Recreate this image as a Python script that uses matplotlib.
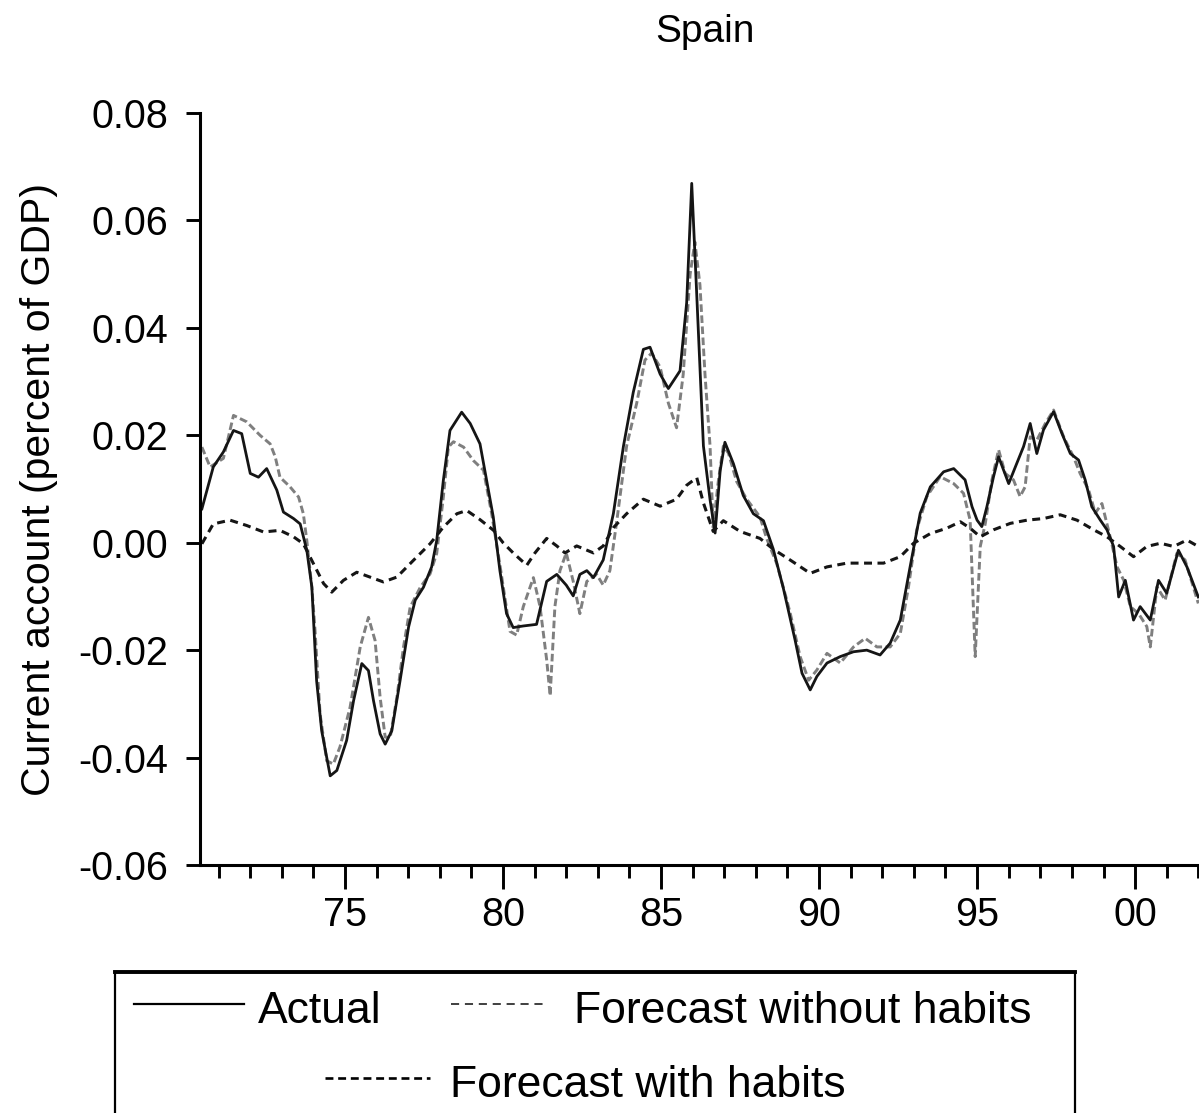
import matplotlib
matplotlib.use("Agg")
import matplotlib.pyplot as plt
from matplotlib.lines import Line2D
from matplotlib.patches import Rectangle
from matplotlib.ticker import FixedLocator, FixedFormatter, MultipleLocator

plt.rcParams['font.family'] = ['Liberation Sans', 'DejaVu Sans']
plt.rcParams['axes.unicode_minus'] = False

# Spain, current account / GDP (years given as 70.5 = mid-1970 etc.)
actual_t = [70.47, 70.83, 71.15, 71.47, 71.73, 72.0, 72.26, 72.52, 72.84, 73.05,
            73.37, 73.58, 73.79, 73.95, 74.1, 74.26, 74.53, 74.74, 75.05, 75.27,
            75.53, 75.74, 75.9, 76.11, 76.27, 76.48, 76.74, 77.01, 77.22, 77.48,
            77.74, 77.9, 78.11, 78.32, 78.69, 78.96, 79.27, 79.69, 79.9, 80.11,
            80.32, 80.64, 81.06, 81.38, 81.7, 82.0, 82.22, 82.43, 82.65, 82.86,
            83.17, 83.49, 83.81, 84.12, 84.44, 84.65, 84.97, 85.23, 85.6, 85.81,
            85.97, 86.13, 86.34, 86.55, 86.71, 86.87, 87.02, 87.29, 87.6, 87.92,
            88.24, 88.55, 88.87, 89.24, 89.46, 89.72, 89.93, 90.25, 90.67, 91.09,
            91.51, 91.93, 92.25, 92.57, 92.88, 93.2, 93.52, 93.94, 94.26, 94.62,
            94.84, 95.0, 95.15, 95.31, 95.52, 95.68, 95.84, 96.0, 96.21, 96.47,
            96.68, 96.89, 97.1, 97.42, 97.68, 97.95, 98.21, 98.42, 98.63, 98.9,
            99.11, 99.32, 99.48, 99.69, 99.95, 100.16, 100.48, 100.74, 101.0, 101.37,
            101.64, 102.0]
actual_v = [0.0063, 0.0141, 0.0169, 0.0209, 0.0203, 0.0129, 0.0122, 0.0138, 0.0098, 0.0057,
            0.0045, 0.0035, -0.0014, -0.0083, -0.0257, -0.035, -0.0434, -0.0424, -0.0368, -0.0294,
            -0.0225, -0.0238, -0.0294, -0.0356, -0.0375, -0.035, -0.0257, -0.0157, -0.0107, -0.0083,
            -0.0045, 0.0004, 0.0116, 0.0209, 0.0243, 0.0222, 0.0184, 0.0048, -0.0052, -0.0132,
            -0.0158, -0.0155, -0.0152, -0.0072, -0.0059, -0.0079, -0.0099, -0.0059, -0.0052, -0.0065,
            -0.0032, 0.0054, 0.018, 0.028, 0.036, 0.0364, 0.0314, 0.0287, 0.032, 0.0447,
            0.0669, 0.046, 0.018, 0.008, 0.0018, 0.0134, 0.0187, 0.0147, 0.0088, 0.0054,
            0.0041, -0.0012, -0.0085, -0.0181, -0.0243, -0.0274, -0.0249, -0.0224, -0.0212, -0.0203,
            -0.02, -0.0209, -0.0187, -0.0144, -0.0045, 0.0055, 0.0104, 0.0132, 0.0138, 0.0117,
            0.0067, 0.0042, 0.003, 0.0067, 0.0123, 0.016, 0.0135, 0.011, 0.0141, 0.0179,
            0.0222, 0.0166, 0.021, 0.0244, 0.0204, 0.0166, 0.0154, 0.0117, 0.0067, 0.0042,
            0.0024, -0.0007, -0.0101, -0.007, -0.0144, -0.0119, -0.0144, -0.007, -0.0094, -0.0014,
            -0.0045, -0.0101]

no_habits_t = [70.47, 70.73, 71.15, 71.47, 71.89, 72.31, 72.63, 72.79, 72.94, 73.26,
               73.53, 73.68, 73.79, 73.95, 74.05, 74.21, 74.42, 74.63, 74.84, 75.16,
               75.48, 75.74, 75.95, 76.11, 76.27, 76.43, 76.64, 76.85, 77.06, 77.38,
               77.69, 77.9, 78.11, 78.27, 78.43, 78.75, 79.06, 79.38, 79.64, 79.91,
               80.22, 80.43, 80.64, 80.96, 81.17, 81.38, 81.49, 81.64, 81.8, 82.0,
               82.22, 82.43, 82.65, 82.96, 83.17, 83.38, 83.6, 83.91, 84.23, 84.49,
               84.7, 84.97, 85.23, 85.49, 85.7, 85.92, 86.07, 86.23, 86.39, 86.55,
               86.65, 86.81, 86.97, 87.13, 87.39, 87.71, 88.13, 88.34, 88.66, 88.97,
               89.09, 89.4, 89.67, 89.93, 90.25, 90.67, 91.09, 91.46, 91.83, 92.25,
               92.57, 92.83, 93.09, 93.41, 93.83, 94.26, 94.57, 94.78, 94.94, 95.1,
               95.26, 95.47, 95.68, 95.89, 96.15, 96.36, 96.52, 96.68, 96.89, 97.16,
               97.42, 97.74, 98.05, 98.26, 98.53, 98.74, 98.95, 99.21, 99.43, 99.64,
               99.85, 100.11, 100.37, 100.48, 100.69, 100.95, 101.32, 101.58, 102.0]
no_habits_v = [0.0178, 0.0141, 0.0157, 0.0237, 0.0225, 0.02, 0.0184, 0.016, 0.0122, 0.0104,
               0.0085, 0.0054, 0.0004, -0.0083, -0.0163, -0.0319, -0.0406, -0.0412, -0.038, -0.0306,
               -0.0194, -0.0139, -0.0182, -0.0288, -0.0362, -0.0362, -0.0288, -0.0194, -0.012, -0.0083,
               -0.0058, -0.002, 0.0085, 0.0178, 0.0188, 0.0178, 0.0153, 0.0135, 0.0054, -0.0045,
               -0.0165, -0.0172, -0.0119, -0.0065, -0.0119, -0.0218, -0.0285, -0.0119, -0.0052, -0.0019,
               -0.0072, -0.0132, -0.0072, -0.0059, -0.0079, -0.0052, 0.0041, 0.018, 0.026, 0.034,
               0.0353, 0.0327, 0.026, 0.0214, 0.0313, 0.05, 0.056, 0.048, 0.0313, 0.018,
               0.0028, 0.0114, 0.018, 0.0167, 0.0114, 0.0081, 0.0048, 0.0008, -0.0039, -0.0105,
               -0.0132, -0.0212, -0.0256, -0.0237, -0.0206, -0.0224, -0.0194, -0.0178, -0.0194, -0.0194,
               -0.0169, -0.0082, 0.0024, 0.0086, 0.0123, 0.011, 0.0092, 0.0042, -0.0212, -0.0007,
               0.0036, 0.0117, 0.0173, 0.0129, 0.0117, 0.0086, 0.0104, 0.0197, 0.0191, 0.0222,
               0.0247, 0.0197, 0.016, 0.0129, 0.0098, 0.0055, 0.0073, 0.0011, -0.0045, -0.007,
               -0.0119, -0.0132, -0.0156, -0.0194, -0.0082, -0.0107, -0.002, -0.0032, -0.0113]

habits_t = [70.47, 70.83, 71.36, 71.89, 72.42, 72.94, 73.37, 73.68, 74.0, 74.32,
            74.58, 74.95, 75.37, 75.79, 76.21, 76.64, 77.16, 77.69, 78.11, 78.54,
            78.85, 79.27, 79.7, 80.0, 80.32, 80.75, 81.01, 81.38, 81.7, 81.96,
            82.33, 82.86, 83.17, 83.49, 83.91, 84.44, 84.97, 85.49, 85.81, 86.13,
            86.34, 86.65, 86.97, 87.5, 88.13, 88.55, 89.08, 89.72, 90.25, 90.88,
            91.51, 92.04, 92.57, 92.99, 93.52, 94.04, 94.47, 94.78, 95.1, 95.52,
            96.05, 96.58, 97.1, 97.63, 98.16, 98.69, 99.11, 99.53, 99.95, 100.37,
            100.8, 101.22, 101.64, 102.0]
habits_v = [-0.0002, 0.0035, 0.0042, 0.0032, 0.002, 0.0023, 0.0011, -0.0002, -0.0039, -0.0076,
            -0.0092, -0.007, -0.0055, -0.0064, -0.0073, -0.0064, -0.0033, -0.0002, 0.0029, 0.0054,
            0.006, 0.0043, 0.0023, 0.0, -0.0019, -0.0042, -0.0019, 0.0008, -0.0006, -0.0019,
            -0.0006, -0.0019, -0.0006, 0.0028, 0.0054, 0.0081, 0.0068, 0.0081, 0.0107, 0.0121,
            0.0074, 0.0021, 0.0041, 0.0021, 0.0008, -0.0012, -0.0032, -0.0057, -0.0045, -0.0038,
            -0.0038, -0.0038, -0.0026, -0.0001, 0.0017, 0.0027, 0.0039, 0.0027, 0.0011, 0.0024,
            0.0036, 0.0042, 0.0045, 0.0052, 0.0042, 0.0024, 0.0011, -0.0007, -0.0026, -0.0007,
            -0.0001, -0.0007, 0.0005, -0.0007]

year_ticks = [75, 80, 85, 90, 95, 100]
year_labels = ['75', '80', '85', '90', '95', '00']
y_ticks = [-0.06, -0.04, -0.02, 0.00, 0.02, 0.04, 0.06, 0.08]

W, H = 1199, 1113


def fx(x):
    return x / W


def fy(y):
    return 1 - y / H


def draw_legend(fig):
    # framed key under the plot, bottom edge runs off the page
    box = Rectangle((fx(115), fy(1140)), fx(1075) - fx(115), fy(972) - fy(1140),
                    transform=fig.transFigure, fill=False, lw=1.6, ec='black')
    fig.add_artist(box)
    fig.add_artist(Line2D([fx(115), fx(1075)], [fy(972), fy(972)],
                          transform=fig.transFigure, color='black', lw=2.8))

    fs = 32
    fig.add_artist(Line2D([fx(134), fx(244)], [fy(1004), fy(1004)],
                          transform=fig.transFigure, color='black', lw=1.6))
    fig.text(fx(258), fy(1023), 'Actual', fontsize=fs, va='baseline')
    fig.add_artist(Line2D([fx(451), fx(547)], [fy(1004), fy(1004)],
                          transform=fig.transFigure, color='#303030', lw=1.3,
                          dashes=(4.5, 3.2)))
    fig.text(fx(574), fy(1023), 'Forecast without habits', fontsize=fs, va='baseline')
    fig.add_artist(Line2D([fx(325), fx(430)], [fy(1078), fy(1078)],
                          transform=fig.transFigure, color='black', lw=1.9,
                          dashes=(3.0, 1.8)))
    fig.text(fx(450), fy(1097), 'Forecast with habits', fontsize=fs, va='baseline')


def main():
    fig = plt.figure(figsize=(W / 100, H / 100), dpi=100)
    # plot area runs a little past the right edge of the page
    ax = fig.add_axes([fx(200), fy(865), (1210 - 200) / W, (865 - 113) / H])

    ax.plot(no_habits_t, no_habits_v, color='#7f7f7f', lw=2.1, dashes=(2.6, 1.2))
    ax.plot(actual_t, actual_v, color='#151515', lw=2.0)
    ax.plot(habits_t, habits_v, color='#151515', lw=2.2, dashes=(2.6, 1.8))

    ax.set_xlim(70.41, 102.37)
    ax.set_ylim(-0.06, 0.08)

    ax.xaxis.set_major_locator(FixedLocator(year_ticks))
    ax.xaxis.set_major_formatter(FixedFormatter(year_labels))
    ax.xaxis.set_minor_locator(MultipleLocator(1))
    ax.set_yticks(y_ticks)
    ax.set_yticklabels(['%.2f' % v for v in y_ticks])

    for side in ['top', 'right']:
        ax.spines[side].set_visible(False)
    for side in ['left', 'bottom']:
        ax.spines[side].set_linewidth(2.2)

    ax.tick_params(axis='x', which='major', direction='out', length=17, width=2.1,
                   pad=5, labelsize=28.5)
    ax.tick_params(axis='x', which='minor', direction='out', length=9.5, width=2.1)
    ax.tick_params(axis='y', which='major', direction='out', length=10, width=2.1,
                   pad=13, labelsize=28.5)

    ax.set_title('Spain', fontsize=28, pad=51)
    ax.set_ylabel('Current account (percent of GDP)', fontsize=29.5)
    ax.yaxis.set_label_coords((58 - 200) / 1010, 0.5)

    draw_legend(fig)
    fig.savefig('out.png', dpi=100)


if __name__ == "__main__":
    main()
